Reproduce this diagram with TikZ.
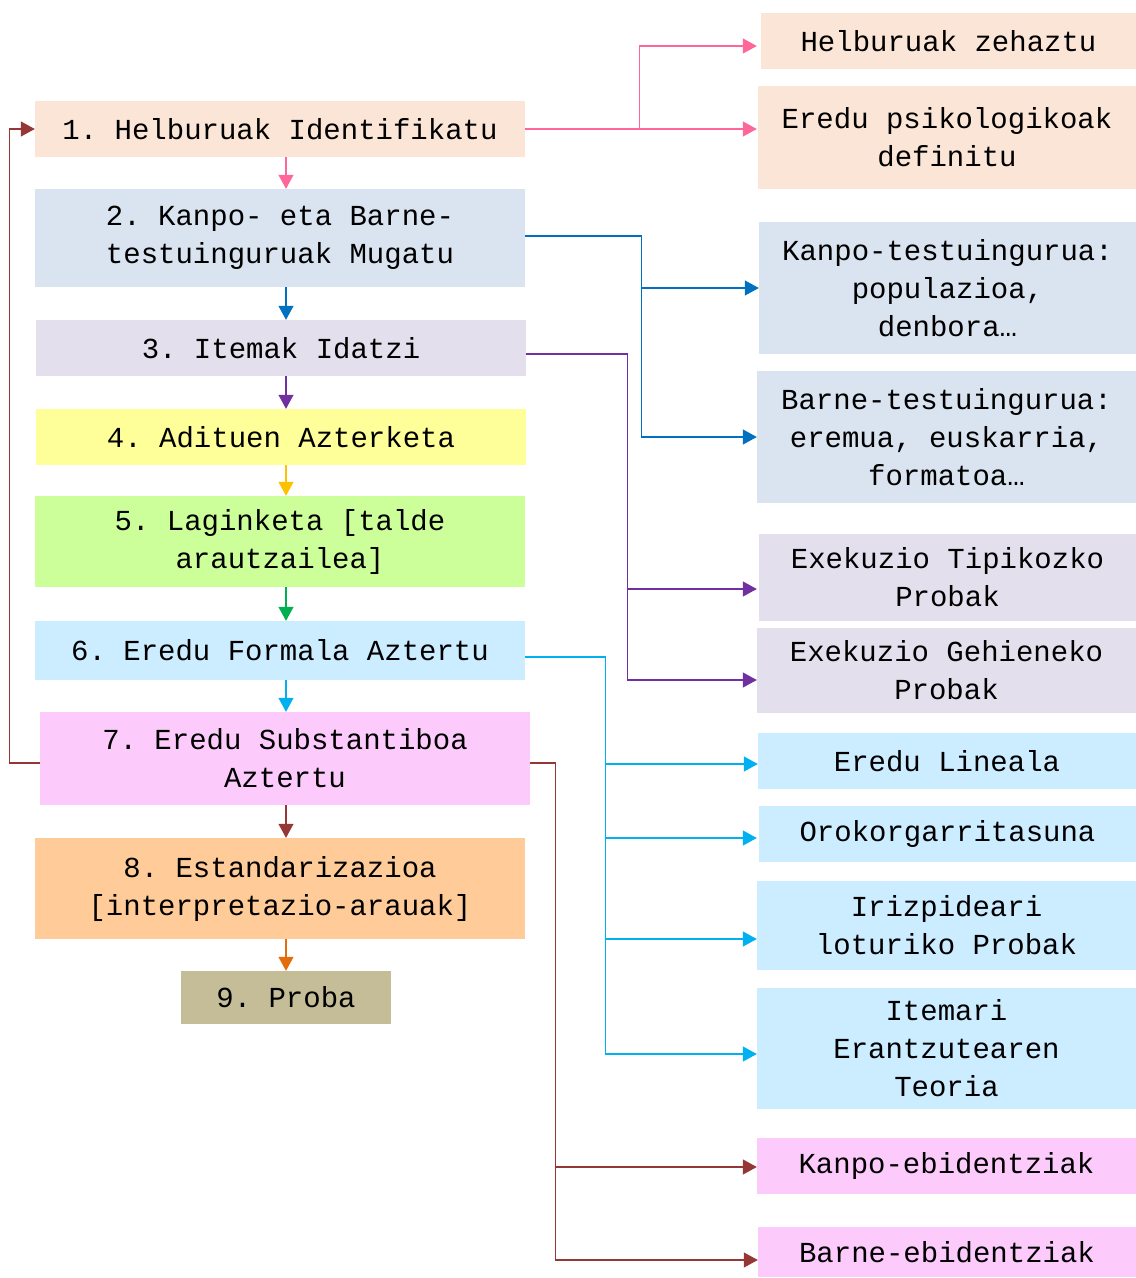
\documentclass[tikz,border=0pt]{standalone}
\usepackage{fontspec}
\usetikzlibrary{arrows.meta,calc}
\newfontfamily\monofnt{Liberation Mono}
\definecolor{cPeach}{HTML}{FBE5D6}
\definecolor{cGreyBlue}{HTML}{DAE3F0}
\definecolor{cLav}{HTML}{E4DFEC}
\definecolor{cYellow}{HTML}{FFFF99}
\definecolor{cGreen}{HTML}{CCFF99}
\definecolor{cSky}{HTML}{CCECFF}
\definecolor{cPink}{HTML}{FCCBFC}
\definecolor{cOrange}{HTML}{FFCC99}
\definecolor{cKhaki}{HTML}{C4BD97}
\definecolor{aPink}{HTML}{FF6699}
\definecolor{aBlue}{HTML}{0070C0}
\definecolor{aPurple}{HTML}{7030A0}
\definecolor{aGold}{HTML}{FFC000}
\definecolor{aGreen}{HTML}{00B050}
\definecolor{aCyan}{HTML}{00B0F0}
\definecolor{aRed}{HTML}{953735}
\definecolor{aOrange}{HTML}{E46C0A}
\tikzset{
  box/.style={rectangle, draw=none, inner sep=0pt, align=center,
    font=\monofnt\fontsize{29}{38}\selectfont\frenchspacing},
  conn/.style={line width=1.2pt, -{Triangle[length=14pt,width=15pt]}},
}
\begin{document}
\begin{tikzpicture}[x=1pt,y=-1pt]
\useasboundingbox (0,0) rectangle (1136,1278);
% left column
\node[box, fill=cPeach, minimum width=490pt, minimum height=56pt] (n1) at (280,129) {1. Helburuak Identifikatu};
\node[box, fill=cGreyBlue, minimum width=490pt, minimum height=98pt] (n2) at (280,238) {2. Kanpo- eta Barne-\\testuinguruak Mugatu};
\node[box, fill=cLav, minimum width=490pt, minimum height=56pt] (n3) at (281,348) {3. Itemak Idatzi};
\node[box, fill=cYellow, minimum width=490pt, minimum height=56pt] (n4) at (281,437) {4. Adituen Azterketa};
\node[box, fill=cGreen, minimum width=490pt, minimum height=91pt] (n5) at (280,541.5) {5. Laginketa [talde\\arautzailea]};
\node[box, fill=cSky, minimum width=490pt, minimum height=59pt] (n6) at (280,650.5) {6. Eredu Formala Aztertu};
\node[box, fill=cPink, minimum width=490pt, minimum height=93pt] (n7) at (285,758.5) {7. Eredu Substantiboa\\Aztertu};
\node[box, fill=cOrange, minimum width=490pt, minimum height=101pt] (n8) at (280,888.5) {8. Estandarizazioa\\{[interpretazio-arauak]}};
\node[box, fill=cKhaki, minimum width=210pt, minimum height=53pt] (n9) at (286,997.5) {9. Proba};
% right column
\node[box, fill=cPeach, minimum width=375pt, minimum height=56pt] (r1) at (948.5,41) {Helburuak zehaztu};
\node[box, fill=cPeach, minimum width=378pt, minimum height=103pt] (r2) at (947,137.5) {Eredu psikologikoak\\definitu};
\node[box, fill=cGreyBlue, minimum width=377pt, minimum height=132pt] (r3) at (947.5,288) {Kanpo-testuingurua:\\populazioa,\\denbora…};
\node[box, fill=cGreyBlue, minimum width=379pt, minimum height=132pt] (r4) at (946.5,437) {Barne-testuingurua:\\eremua, euskarria,\\formatoa…};
\node[box, fill=cLav, minimum width=377pt, minimum height=87pt] (r5) at (947.5,577.5) {Exekuzio Tipikozko\\Probak};
\node[box, fill=cLav, minimum width=379pt, minimum height=85pt] (r6) at (946.5,670.5) {Exekuzio Gehieneko\\Probak};
\node[box, fill=cSky, minimum width=378pt, minimum height=56pt] (r7) at (947,761) {Eredu Lineala};
\node[box, fill=cSky, minimum width=377pt, minimum height=56pt] (r8) at (947.5,834) {Orokorgarritasuna};
\node[box, fill=cSky, minimum width=379pt, minimum height=89pt] (r9) at (946.5,925.5) {Irizpideari\\loturiko Probak};
\node[box, fill=cSky, minimum width=379pt, minimum height=121pt] (r10) at (946.5,1048.5) {Itemari\\Erantzutearen\\Teoria};
\node[box, fill=cPink, minimum width=379pt, minimum height=56pt] (r11) at (946.5,1166) {Kanpo-ebidentziak};
\node[box, fill=cPink, minimum width=378pt, minimum height=50pt] (r12) at (947,1252) {Barne-ebidentziak};
% vertical chain
\draw[conn, aPink]   (n1.south -| n9.center) -- (n2.north -| n9.center);
\draw[conn, aBlue]   (n2.south -| n9.center) -- (n3.north -| n9.center);
\draw[conn, aPurple] (n3.south -| n9.center) -- (n4.north -| n9.center);
\draw[conn, aGold]   (n4.south -| n9.center) -- (n5.north -| n9.center);
\draw[conn, aGreen]  (n5.south -| n9.center) -- (n6.north -| n9.center);
\draw[conn, aCyan]   (n6.south -| n9.center) -- (n7.north -| n9.center);
\draw[conn, aRed]    (n7.south -| n9.center) -- (n8.north -| n9.center);
\draw[conn, aOrange] (n8.south -| n9.center) -- (n9.north);
% feedback loop
\draw[conn, aRed] ($(n7.west)+(0,4.5)$) -- ++(-30,0) |- (n1.west);
% branches
\draw[conn, aPink] (n1.east) -- ++(114,0) |- ($(r1.west)+(-4,5)$);
\draw[conn, aPink] (n1.east) -- ($(r2.west |- n1.east)+(-1,0)$);
\draw[conn, aBlue] ($(n2.east)+(0,-2)$) -- ++(116,0) |- (r3.west);
\draw[conn, aBlue] ($(n2.east)+(0,-2)$) -- ++(116,0) |- (r4.west);
\draw[conn, aPurple] ($(n3.east)+(0,6)$) -- ++(101,0) |- ($(r5.west)+(-2,11.5)$);
\draw[conn, aPurple] ($(n3.east)+(0,6)$) -- ++(101,0) |- ($(r6.west)+(0,9.5)$);
\draw[conn, aCyan] ($(n6.east)+(0,6.5)$) -- ++(80,0) |- ($(r7.west)+(0,3)$);
\draw[conn, aCyan] ($(n6.east)+(0,6.5)$) -- ++(80,0) |- ($(r8.west)+(-2,4)$);
\draw[conn, aCyan] ($(n6.east)+(0,6.5)$) -- ++(80,0) |- ($(r9.west)+(0,13.5)$);
\draw[conn, aCyan] ($(n6.east)+(0,6.5)$) -- ++(80,0) |- ($(r10.west)+(0,5.5)$);
\draw[conn, aRed] ($(n7.east)+(0,4.5)$) -- ++(25,0) |- ($(r11.west)+(0,1)$);
\draw[conn, aRed] ($(n7.east)+(0,4.5)$) -- ++(25,0) |- ($(r12.west)+(0,8)$);
\end{tikzpicture}
\end{document}
